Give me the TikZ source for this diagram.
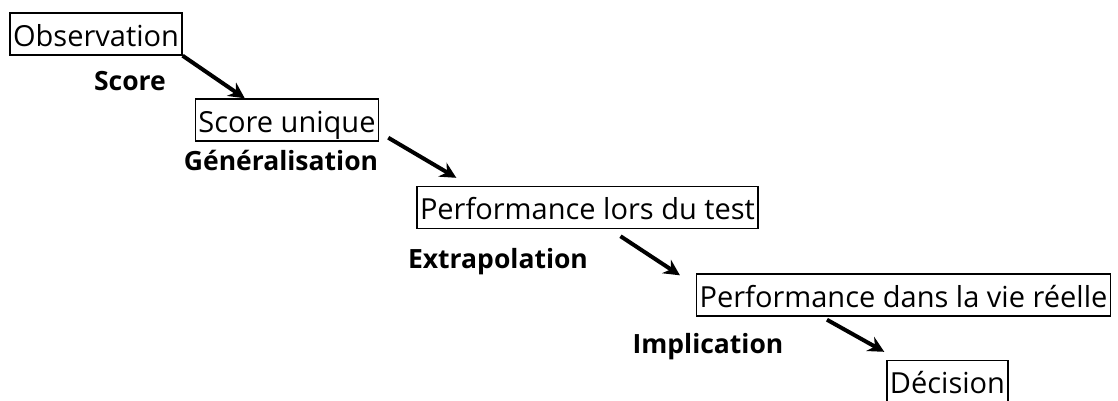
\documentclass[tikz,border=0pt]{standalone}
\usepackage{fontspec}
\setmainfont{Open Sans}
\usetikzlibrary{arrows.meta,calc}

\tikzset{
  etape/.style={draw, line width=1.4pt, inner xsep=3pt, inner ysep=1pt,
    text height=32pt, text depth=8pt},
  lien/.style={inner sep=0pt, text height=31pt, text depth=7pt,
    font=\fontsize{26.5}{32}\selectfont\bfseries},
  fleche/.style={line width=4pt, -{Stealth[length=16pt,width=16pt]}}
}

\begin{document}
\begin{tikzpicture}[x=1pt, y=-1pt, font=\fontsize{29}{34}\selectfont]
    \useasboundingbox (0,0) rectangle (1118,400);
    \node[etape] (obs) at (96, 34) {Observation};
    \node[etape] (uniq) at (287, 120) {Score unique};
    \node[etape] (test) at (587.5, 207.5) {Performance lors du test};
    \node[etape] (reel) at (903.5, 295) {Performance dans la vie réelle};
    \node[etape] (dec) at (947.5, 381.5) {Décision};
    \node[lien] (score) at (130, 78) {Score};
    \node[lien] (gen) at (281, 158) {Généralisation};
    \node[lien] (extra) at (498, 256) {Extrapolation};
    \node[lien] (impl) at (708, 341) {Implication};
    \draw[fleche] (obs.south east) -- ($(uniq.north west)+(50,0)$);
    \draw[fleche] ($(uniq.south east)+(9,-4)$) -- ($(test.north west)+(40,-8)$);
    \draw[fleche] ($(test.south)+(33,7)$) -- ($(reel.north west)+(-16,2)$);
    \draw[fleche] ($(reel.south west)+(131,3)$) -- ($(dec.north west)+(-2,-8)$);
  \end{tikzpicture}
\end{document}
